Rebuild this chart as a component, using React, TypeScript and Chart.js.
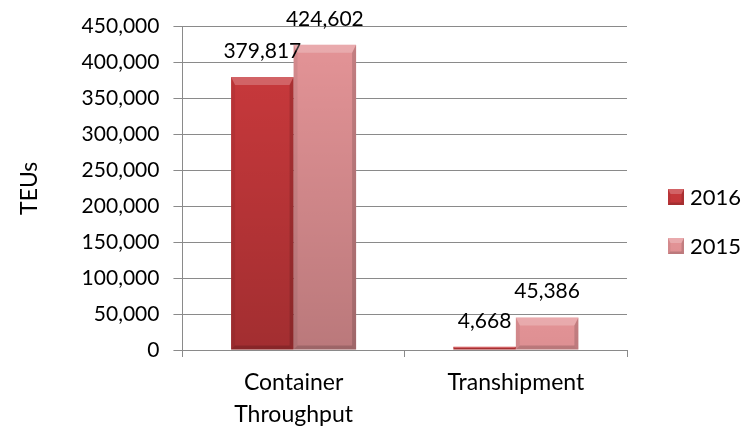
import React, { useEffect, useRef } from 'react';
import { Chart, registerables } from 'chart.js';

Chart.register(...registerables);

const categories: (string | string[])[] = [['Container', 'Throughput'], 'Transhipment'];
const seriesNames = ['2016', '2015'];
const values2016 = [379817, 4668];
const values2015 = [424602, 45386];
const seriesColors = ['#C6383B', '#E39396'];
const yMin = 0;
const yMax = 450000;
const yStep = 50000;
const yTitle = 'TEUs';

const FONT = 'Lato, "Open Sans", sans-serif';
const GRID = '#8A8A8A';

function poly(ctx: CanvasRenderingContext2D, pts: number[][], fill: string | CanvasGradient) {
  ctx.beginPath();
  ctx.moveTo(pts[0][0], pts[0][1]);
  for (let i = 1; i < pts.length; i++) ctx.lineTo(pts[i][0], pts[i][1]);
  ctx.closePath();
  ctx.fillStyle = fill;
  ctx.fill();
}

function bevel(ctx: CanvasRenderingContext2D, l: number, t: number, r: number, b: number, maxE: number) {
  const h = b - t;
  const w = r - l;
  if (h <= 0 || w <= 0) return;
  const g = ctx.createLinearGradient(0, t, 0, b);
  g.addColorStop(0, 'rgba(0,0,0,0)');
  g.addColorStop(1, `rgba(0,0,0,${Math.min(0.18, 0.18 * h / 200)})`);
  ctx.fillStyle = g;
  ctx.fillRect(l, t, w, h);
  const et = Math.min(maxE, h / 2, w / 2);
  const es = Math.min(maxE * 0.5, h / 2, w / 2);
  const eb = Math.min(maxE * 0.5, h / 2, w / 2);
  poly(ctx, [[l, t], [r, t], [r - es, t + et], [l + es, t + et]], 'rgba(255,255,255,0.22)');
  poly(ctx, [[l, t], [l + es, t + et], [l + es, b - eb], [l, b]], 'rgba(0,0,0,0.06)');
  poly(ctx, [[r, t], [r, b], [r - es, b - eb], [r - es, t + et]], 'rgba(0,0,0,0.14)');
  poly(ctx, [[l, b], [r, b], [r - es, b - eb], [l + es, b - eb]], 'rgba(0,0,0,0.16)');
}

const barDecor = {
  id: 'barDecor',
  afterDatasetsDraw(chart: any) {
    const ctx: CanvasRenderingContext2D = chart.ctx;
    ctx.save();
    chart.data.datasets.forEach((ds: any, di: number) => {
      const meta = chart.getDatasetMeta(di);
      meta.data.forEach((bar: any, i: number) => {
        const { x, y, base, width } = bar.getProps(['x', 'y', 'base', 'width'], true);
        const l = x - width / 2;
        const r = x + width / 2;
        const t = Math.min(y, base);
        const b = Math.max(y, base);
        bevel(ctx, l, t, r, b, 8);
        const v = ds.data[i] as number;
        ctx.fillStyle = '#000';
        ctx.font = `21px ${FONT}`;
        ctx.textAlign = 'center';
        ctx.textBaseline = 'alphabetic';
        ctx.fillText(v.toLocaleString('en-US'), x, t - 19);
      });
    });
    ctx.restore();
  },
};

const customLegend = {
  id: 'customLegend',
  afterDraw(chart: any) {
    const ctx: CanvasRenderingContext2D = chart.ctx;
    const area = chart.chartArea;
    const x0 = area.right + 41;
    const cy = chart.height / 2 + 7;
    const gap = 49;
    ctx.save();
    chart.data.datasets.forEach((ds: any, i: number) => {
      const yc = cy + (i - (chart.data.datasets.length - 1) / 2) * gap;
      const s = 16;
      ctx.fillStyle = ds.backgroundColor;
      ctx.fillRect(x0, yc - s / 2, s, s);
      bevel(ctx, x0, yc - s / 2, x0 + s, yc + s / 2, 5);
      ctx.fillStyle = '#000';
      ctx.font = `22px ${FONT}`;
      ctx.textAlign = 'left';
      ctx.textBaseline = 'middle';
      ctx.fillText(ds.label, x0 + 22, yc + 1);
    });
    ctx.restore();
  },
};

export default function App() {
  const ref = useRef<HTMLCanvasElement | null>(null);
  useEffect(() => {
    if (!ref.current) return;
    const chart = new Chart(ref.current, {
      type: 'bar',
      data: {
        labels: categories,
        datasets: [
          { label: seriesNames[0], data: values2016, backgroundColor: seriesColors[0], borderWidth: 0 },
          { label: seriesNames[1], data: values2015, backgroundColor: seriesColors[1], borderWidth: 0 },
        ],
      },
      options: {
        animation: false,
        responsive: true,
        maintainAspectRatio: false,
        layout: { padding: { left: 0, right: 129, top: 23, bottom: 0 } },
        datasets: { bar: { categoryPercentage: 0.5625, barPercentage: 1 } },
        plugins: { legend: { display: false }, tooltip: { enabled: false } },
        scales: {
          x: {
            grid: { offset: true, drawOnChartArea: false, color: GRID, tickLength: 7 },
            border: { color: GRID },
            ticks: { color: '#000', font: { family: FONT, size: 23, lineHeight: 1.4 }, padding: 9, maxRotation: 0 },
            afterFit: (scale: any) => {
              scale.height = 79;
            },
          },
          y: {
            min: yMin,
            max: yMax,
            grid: { color: GRID, tickLength: 9 },
            border: { color: GRID },
            ticks: {
              stepSize: yStep,
              color: '#000',
              font: { family: FONT, size: 21 },
              padding: 14,
              callback: (v: any) => Number(v).toLocaleString('en-US'),
            },
            title: {
              display: true,
              text: yTitle,
              color: '#000',
              font: { family: FONT, size: 23 },
              padding: { top: 16, bottom: 24 },
            },
          },
        },
      },
      plugins: [barDecor, customLegend],
    });
    return () => chart.destroy();
  }, []);
  return (
    <div style={{ position: 'absolute', left: 0, top: 0, width: 756, height: 429 }}>
      <canvas ref={ref} />
    </div>
  );
}
